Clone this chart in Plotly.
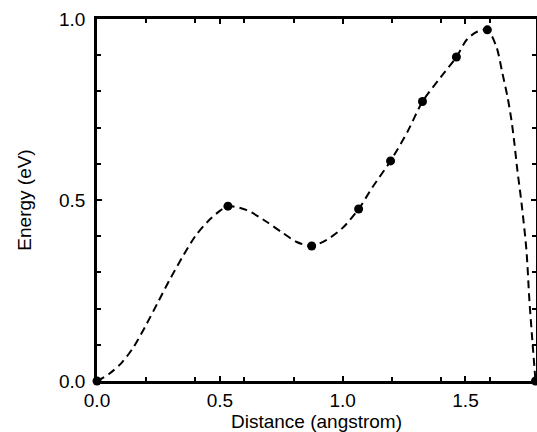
import plotly.graph_objects as go

# Data points (markers)
x_pts = [0.0, 0.533, 0.874, 1.065, 1.195, 1.325, 1.463, 1.589, 1.785]
y_pts = [0.0, 0.483, 0.373, 0.475, 0.608, 0.772, 0.895, 0.970, 0.0]

# Dashed curve
curve_x = [0.0, 0.05, 0.1, 0.15, 0.2, 0.25, 0.3, 0.35, 0.4, 0.45, 0.5, 0.533,
           0.61, 0.69, 0.756, 0.813, 0.874, 0.935, 1.0, 1.065, 1.122, 1.195, 1.265,
           1.325, 1.40, 1.463, 1.504, 1.545, 1.589, 1.626, 1.65, 1.671, 1.687, 1.699,
           1.711, 1.728, 1.748, 1.76, 1.772, 1.785]
curve_y = [0.0, 0.02, 0.05, 0.095, 0.155, 0.22, 0.285, 0.345, 0.4, 0.44, 0.47, 0.483,
           0.472, 0.44, 0.409, 0.384, 0.373, 0.39, 0.423, 0.475, 0.536, 0.608, 0.69,
           0.772, 0.84, 0.895, 0.942, 0.964, 0.970, 0.923, 0.851, 0.785, 0.721, 0.657,
           0.583, 0.492, 0.362, 0.224, 0.113, 0.0]

x_ticks = [0.0, 0.5, 1.0, 1.5]
x_tick_labels = ["0.0", "0.5", "1.0", "1.5"]
y_ticks = [0.0, 0.5, 1.0]
y_tick_labels = ["0.0", "0.5", "1.0"]

fig = go.Figure()
fig.add_trace(go.Scatter(
    x=curve_x, y=curve_y, mode="lines",
    line=dict(color="black", width=2, dash="8px,5px", shape="spline", smoothing=0.8),
    hoverinfo="skip", showlegend=False, cliponaxis=False,
))
fig.add_trace(go.Scatter(
    x=x_pts, y=y_pts, mode="markers",
    marker=dict(color="black", size=9),
    showlegend=False, cliponaxis=False,
))

font = dict(family="Liberation Sans, Arial, sans-serif", size=19, color="black")

fig.update_layout(
    width=537, height=432,
    margin=dict(l=97, r=1, t=19, b=51, autoexpand=False),
    paper_bgcolor="white", plot_bgcolor="white",
    font=font,
    xaxis=dict(
        range=[0, 1.787], tickmode="array", tickvals=x_ticks, ticktext=x_tick_labels,
        ticks="inside", ticklen=5, tickwidth=1.5, tickcolor="black",
        minor=dict(dtick=0.2, tick0=0, ticks="inside", ticklen=4, tickwidth=1.5, tickcolor="black"),
        showline=True, linecolor="black", linewidth=2.5, mirror="ticks",
        showgrid=False, zeroline=False,
        title=dict(text="Distance (angstrom)", font=font, standoff=2),
        tickfont=font,
    ),
    yaxis=dict(
        range=[0, 1.0], tickmode="array", tickvals=y_ticks, ticktext=y_tick_labels,
        ticks="inside", ticklen=5, tickwidth=1.5, tickcolor="black",
        minor=dict(dtick=0.1, tick0=0, ticks="inside", ticklen=4, tickwidth=1.5, tickcolor="black"),
        showline=True, linecolor="black", linewidth=2.5, mirror="ticks",
        showgrid=False, zeroline=False, ticklabelstandoff=5,
        title=dict(text="Energy (eV)", font=font, standoff=23),
        tickfont=font,
    ),
)

fig.write_html("out.html", config={"displayModeBar": False},
               post_script="document.body.style.margin='0';")
